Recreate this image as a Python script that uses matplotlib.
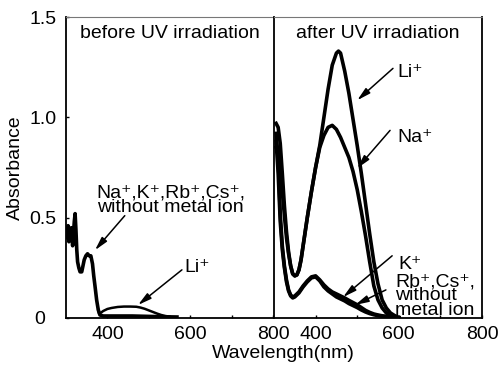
import matplotlib
matplotlib.use('Agg')
import matplotlib.pyplot as plt

plt.rcParams['font.family'] = ['Liberation Sans', 'DejaVu Sans']

# before UV irradiation
wl_before = [303, 305, 307, 309, 311, 313, 316, 318, 320, 322, 324, 326, 328, 331, 334, 338, 341, 344,
             348, 352, 356, 360, 364, 367, 370, 374, 378, 382, 390, 420, 460, 500, 540, 568]
abs_before_other = [0.40, 0.46, 0.38, 0.44, 0.40, 0.45, 0.36, 0.42, 0.48, 0.52, 0.44, 0.34, 0.28, 0.25,
                    0.23, 0.23, 0.26, 0.29, 0.31, 0.32, 0.31, 0.31, 0.27, 0.21, 0.16, 0.09, 0.04, 0.015,
                    0.01, 0.01, 0.01, 0.008, 0.006, 0.005]
wl_before_li = [378, 380, 390, 400, 410, 425, 440, 455, 470, 480, 490, 500, 510, 520, 530, 540, 550]
abs_before_li = [0.04, 0.02, 0.035, 0.045, 0.05, 0.055, 0.057, 0.057, 0.056, 0.052, 0.046, 0.038, 0.030,
                 0.022, 0.015, 0.010, 0.007]

# after UV irradiation
wl_after = [305, 310, 315, 320, 325, 330, 335, 340, 345, 350, 355, 360, 365, 370, 380, 390, 400, 410,
            420, 430, 440, 450, 455, 460, 470, 480, 490, 500, 510, 520, 530, 540, 550, 560, 570, 580,
            590, 600]
abs_after_li = [0.97, 0.95, 0.87, 0.72, 0.56, 0.43, 0.33, 0.26, 0.22, 0.21, 0.215, 0.24, 0.29, 0.36,
                0.50, 0.63, 0.75, 0.86, 1.00, 1.14, 1.26, 1.32, 1.33, 1.32, 1.23, 1.12, 0.99, 0.86,
                0.72, 0.57, 0.42, 0.28, 0.17, 0.09, 0.05, 0.025, 0.012, 0.003]
abs_after_na = [0.85, 0.82, 0.75, 0.63, 0.51, 0.40, 0.32, 0.26, 0.22, 0.21, 0.215, 0.24, 0.29, 0.36,
                0.50, 0.63, 0.75, 0.85, 0.91, 0.95, 0.96, 0.94, 0.92, 0.90, 0.85, 0.80, 0.73, 0.64,
                0.53, 0.41, 0.28, 0.16, 0.09, 0.05, 0.025, 0.012, 0.004, 0.001]
abs_after_k = [0.92, 0.80, 0.52, 0.36, 0.26, 0.19, 0.14, 0.115, 0.105, 0.11, 0.12, 0.13, 0.145, 0.16,
               0.185, 0.205, 0.21, 0.19, 0.165, 0.145, 0.13, 0.12, 0.115, 0.11, 0.10, 0.088, 0.077,
               0.066, 0.052, 0.038, 0.028, 0.02, 0.015, 0.011, 0.008, 0.005, 0.003, 0.002]
abs_after_other = [0.88, 0.72, 0.48, 0.34, 0.25, 0.18, 0.135, 0.11, 0.10, 0.105, 0.115, 0.125, 0.14,
                   0.155, 0.18, 0.20, 0.205, 0.185, 0.155, 0.135, 0.12, 0.105, 0.10, 0.095, 0.085,
                   0.072, 0.062, 0.052, 0.04, 0.03, 0.022, 0.016, 0.012, 0.009, 0.006, 0.004, 0.002,
                   0.001]

y_ticks = [0, 0.5, 1.0, 1.5]
y_ticklabels = ['0  ', '0.5', '1.0', '1.5']
x_ticks = [400, 600, 800]

fig = plt.figure(figsize=(4.99, 3.65), dpi=100)
W, H = 499, 365
ax1 = fig.add_axes([66 / W, (H - 318) / H, 207 / W, 301 / H])
ax2 = fig.add_axes([274 / W, (H - 318) / H, 208 / W, 301 / H])

lw = 2.6
ax1.plot(wl_before, abs_before_other, color='k', lw=lw)
ax1.plot(wl_before_li, abs_before_li, color='k', lw=1.8)
ax2.plot(wl_after, abs_after_li, color='k', lw=lw)
ax2.plot(wl_after, abs_after_na, color='k', lw=lw)
ax2.plot(wl_after, abs_after_k, color='k', lw=lw)
ax2.plot(wl_after, abs_after_other, color='k', lw=lw)

for ax in (ax1, ax2):
    ax.set_xlim(300, 800)
    ax.set_ylim(0, 1.5)
    ax.set_xticks(x_ticks)
    ax.set_xticks([500, 700], minor=True)
    ax.tick_params(axis='x', which='both', direction='in', length=2.5, width=1, labelsize=14, pad=6)
    for s in ('left', 'right', 'bottom'):
        ax.spines[s].set_linewidth(1.3)
    ax.spines['top'].set_color('#777777')
    ax.spines['top'].set_linewidth(0.8)
    ax.spines['top'].set_linestyle((0, (1, 1)))

ax1.set_yticks(y_ticks)
ax1.set_yticklabels(y_ticklabels)
ax1.tick_params(axis='y', direction='in', length=2.5, width=1, labelsize=14, pad=7)
ax1.spines['right'].set_visible(False)
ax2.set_yticks([])

arrow = dict(arrowstyle='-|>,head_length=0.8,head_width=0.2', color='k', lw=1.1, shrinkA=0, shrinkB=0)
fs = 14

ax1.text(551, 1.418, 'before UV irradiation', ha='center', va='center', fontsize=fs)
ax2.text(549, 1.418, 'after UV irradiation', ha='center', va='center', fontsize=fs)

ax1.text(553, 0.585, 'Na⁺,K⁺,Rb⁺,Cs⁺,\nwithout metal ion', ha='center', va='center',
         multialignment='center', fontsize=fs, linespacing=0.8)
ax1.annotate('', xy=(370, 0.338), xytext=(442, 0.51), arrowprops=arrow)
ax1.text(587, 0.254, 'Li⁺', ha='left', va='center', fontsize=fs)
ax1.annotate('', xy=(474, 0.065), xytext=(580, 0.24), arrowprops=arrow)

ax2.text(596, 1.224, 'Li⁺', ha='left', va='center', fontsize=fs)
ax2.annotate('', xy=(500, 1.085), xytext=(586, 1.244), arrowprops=arrow)
ax2.text(596, 0.90, 'Na⁺', ha='left', va='center', fontsize=fs)
ax2.annotate('', xy=(500, 0.746), xytext=(579, 0.935), arrowprops=arrow)
ax2.text(598, 0.265, 'K⁺', ha='left', va='center', fontsize=fs)
ax2.annotate('', xy=(466, 0.104), xytext=(584, 0.31), arrowprops=arrow)
ax2.text(591, 0.11, 'Rb⁺,Cs⁺,\nwithout\nmetal ion', ha='left', va='center', fontsize=fs,
         linespacing=0.78)
ax2.annotate('', xy=(495, 0.065), xytext=(569, 0.14), arrowprops=arrow)

fig.text(283 / W, 1 - 353 / H, 'Wavelength(nm)', ha='center', va='center', fontsize=fs)
fig.text(15 / W, 1 - 168 / H, 'Absorbance', ha='center', va='center', rotation=90, fontsize=fs)

fig.savefig('out.png', dpi=100)
